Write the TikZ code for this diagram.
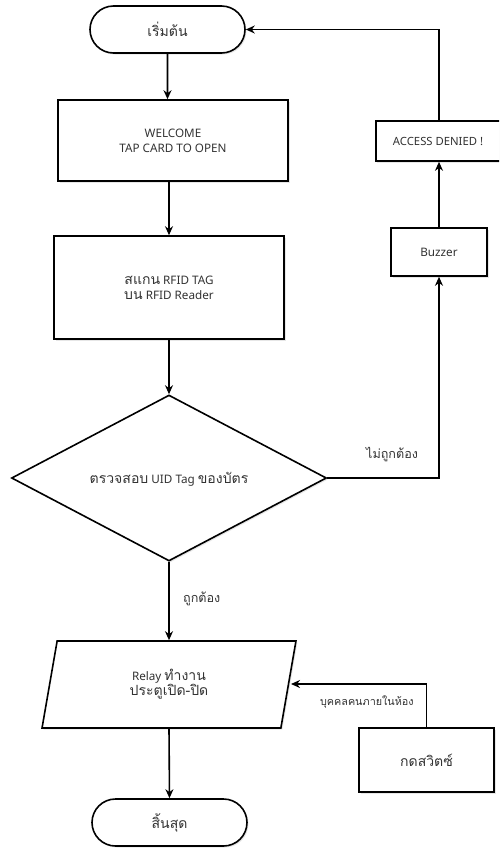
\documentclass[tikz,border=0pt]{standalone}
\usepackage{fontspec}
\setmainfont{Noto Sans}
\newfontfamily\thaifnt[Script=Thai,Scale=1.2]{Loma}
\newcommand{\thtxt}[1]{{\thaifnt #1}}
\usetikzlibrary{shapes.geometric,shapes.misc,arrows.meta,calc,shadows}
\begin{document}
\begin{tikzpicture}[x=1pt,y=-1pt,
  every node/.style={font=\fontsize{11.7}{15}\selectfont, text=black!80, align=center},
  shad/.style={drop shadow={opacity=0.2, shadow xshift=1.5pt, shadow yshift=-1.5pt}},
  box/.style={draw, line width=1.6pt, inner sep=0pt, fill=white, shad},
  term/.style={draw, line width=1.6pt, rounded rectangle, inner sep=0pt, fill=white, shad},
  conn/.style={line width=1.6pt, -{Stealth[length=9pt,width=8pt]}},
  lbl/.style={font=\fontsize{10.5}{13}\selectfont}]
\useasboundingbox (0,0) rectangle (499,849);
\clip (0,0) rectangle (499,849);
% nodes
\node[term, minimum width=155pt, minimum height=47pt] (start) at (167.5,29.5) {\thtxt{เริ่มต้น}};
\node[box, minimum width=230pt, minimum height=81pt] (welcome) at (173,140.5) {WELCOME\\TAP CARD TO OPEN};
\node[box, minimum width=230pt, minimum height=103pt] (scan) at (169,287.5) {\thtxt{สแกน} RFID TAG\\\thtxt{บน} RFID Reader};
\node[draw, line width=1.6pt, diamond, aspect=1.9, minimum width=315pt, minimum height=166pt, inner sep=0pt, fill=white, shad] (check) at (169,478) {};
\node at (169,479) {\thtxt{ตรวจสอบ} UID Tag \thtxt{ของบัตร}};
\node[box, minimum width=96pt, minimum height=48pt] (buzzer) at (439,252) {Buzzer};
\node[box, minimum width=126pt, minimum height=40pt, anchor=west] (denied) at (375,141) {};
\node[font=\fontsize{11.3}{13}\selectfont] at (438,141) {ACCESS DENIED !};
\node[draw, line width=1.6pt, trapezium, trapezium left angle=80, trapezium right angle=100, minimum width=254pt, minimum height=87pt, inner sep=0pt, trapezium stretches=true, fill=white, shad] (relay) at (169,684.5) {Relay \thtxt{ทำงาน}\\\thtxt{ประตูเปิด-ปิด}};
\node[box, minimum width=135pt, minimum height=64pt] (switch) at (426.5,760) {\thtxt{กดสวิตซ์}};
\node[term, minimum width=155pt, minimum height=47pt] (stop) at (169.5,822.5) {\thtxt{สิ้นสุด}};
\coordinate (relayR) at (291,684);
% connectors
\draw[conn] (start) -- (start |- welcome.north);
\draw[conn] (169,181) -- (scan.north -| 169,0);
\draw[conn] (scan.south) -- (check.north);
\draw[conn] (check.south) -- node[lbl, right=10pt, pos=0.47] {\thtxt{ถูกต้อง}} (relay.north);
\draw[conn] (relay.south) -- (stop.north);
\draw[conn] (check.east) -| node[lbl, pos=0.29, above=12pt] {\thtxt{ไม่ถูกต้อง}} (buzzer.south);
\draw[conn] (buzzer.north) -- (buzzer.north |- denied.south);
\draw[conn] (buzzer.north |- denied.north) |- (start.east);
\draw[conn] (switch.north) |- node[lbl, pos=0.72, below=8pt, font=\fontsize{9}{11}\selectfont] {\thtxt{บุคคลคนภายในห้อง}} (relayR);
\end{tikzpicture}
\end{document}
